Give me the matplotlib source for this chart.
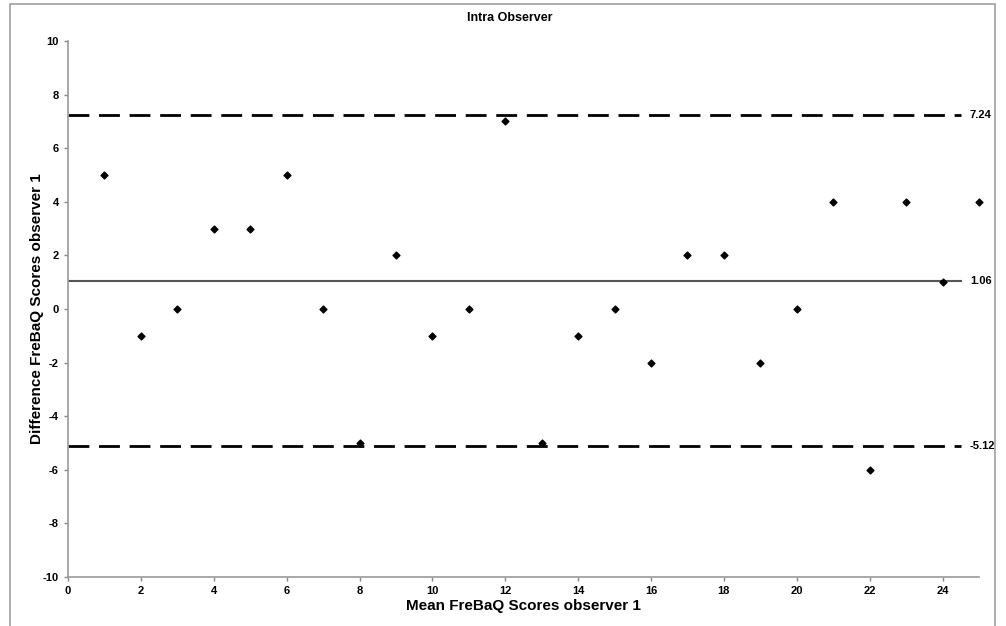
import matplotlib
matplotlib.use("Agg")
import matplotlib.pyplot as plt
from matplotlib.patches import Rectangle

plt.rcParams['font.family'] = ['Liberation Sans', 'DejaVu Sans']
plt.rcParams['axes.unicode_minus'] = False

mean_scores = list(range(1, 26))
differences = [5, -1, 0, 3, 3, 5, 0, -5, 2, -1, 0, 7, -5, -1, 0, -2, 2, 2, -2, 0, 4, -6, 4, 1, 4]
upper_loa = 7.24
bias = 1.06
lower_loa = -5.12
x_ticks = list(range(0, 25, 2))
y_ticks = list(range(-10, 11, 2))

fig = plt.figure(figsize=(10.06, 6.26), dpi=100)
ax = fig.add_axes([68/1006, 1-577/626, (979-68)/1006, (577-41)/626])

# chart border
fig.patches.append(Rectangle((10/1006, -0.05), (995-10)/1006, 1.05 - 4/626,
                             transform=fig.transFigure, fill=False,
                             edgecolor='#a0a0a0', linewidth=1.2, clip_on=False))

line_end = 24.5
ax.plot([0, line_end], [upper_loa, upper_loa], color='black', lw=2, dashes=(7.5, 3.5))
ax.plot([0, line_end], [lower_loa, lower_loa], color='black', lw=2, dashes=(7.5, 3.5))
ax.plot([0, line_end], [bias, bias], color='#555555', lw=1.5)

ax.scatter(mean_scores, differences, marker='D', s=12, color='black', zorder=3, clip_on=False)

for v in (upper_loa, bias, lower_loa):
    ax.text(line_end + 0.25, v, f"{v:.2f}", va='center', ha='left',
            fontsize=8, fontweight='bold', clip_on=False)

ax.set_xlim(0, 25)
ax.set_ylim(-10, 10)
ax.set_xticks(x_ticks)
ax.set_yticks(y_ticks)
ax.tick_params(labelsize=8, length=3, color='#888888', width=1)
for lab in ax.get_xticklabels() + ax.get_yticklabels():
    lab.set_fontweight('bold')
for s in ('top', 'right'):
    ax.spines[s].set_visible(False)
for s in ('left', 'bottom'):
    ax.spines[s].set_color('#999999')
    ax.spines[s].set_linewidth(1.2)

ax.set_xlabel('Mean FreBaQ Scores observer 1', fontsize=11, fontweight='bold', labelpad=2)
ax.set_ylabel('Difference FreBaQ Scores observer 1', fontsize=11, fontweight='bold', labelpad=-1)
fig.text(510/1006, 1-18/626, 'Intra Observer', ha='center', va='center',
         fontsize=9, fontweight='bold')

fig.savefig('out.png', dpi=100)
